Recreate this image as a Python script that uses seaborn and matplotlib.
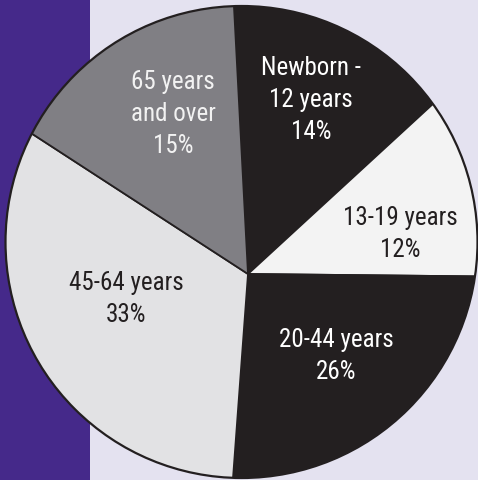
import matplotlib
matplotlib.use("Agg")
import matplotlib.pyplot as plt
import seaborn as sns
from matplotlib.patches import Circle, Rectangle

sns.set_theme(style="white")
plt.rcParams['font.family'] = ['Roboto Condensed', 'PT Sans Narrow', 'Liberation Sans', 'DejaVu Sans']

# Data
categories = ["Newborn -\n12 years", "13-19 years", "20-44 years", "45-64 years", "65 years\nand over"]
shares = [14, 12, 26, 33, 15]
slice_colors = ["#231f20", "#f3f3f3", "#231f20", "#e2e2e4", "#807f84"]
text_colors = ["white", "#231f20", "white", "#231f20", "#f2f2f2"]

W, H = 478, 481
fig = plt.figure(figsize=(W / 100, H / 100), dpi=100)
ax = fig.add_axes([0, 0, 1, 1])

def Y(y):
    return H - y

ax.add_patch(Rectangle((0, 0), W, H, facecolor="#e4e2f0", edgecolor="none", zorder=0))
ax.add_patch(Rectangle((0, 0), 90, H, facecolor="#45298a", edgecolor="none", zorder=0))

apex = (248, Y(275))
circ_c = (241.5, Y(243))
circ_r = 236

wedges, _ = ax.pie(shares, center=apex, radius=450, startangle=93, counterclock=False,
                   colors=slice_colors,
                   wedgeprops=dict(edgecolor="#231f20", linewidth=1.3))
clip = Circle(circ_c, circ_r, transform=ax.transData)
for w in wedges:
    w.set_zorder(2)
    w.set_clip_on(True)
    w.set_clip_path(clip)

ax.add_patch(Circle(circ_c, circ_r, facecolor="none", edgecolor="#231f20", linewidth=1.6, zorder=3))

label_pos = [(311, 100), (400, 234), (336, 356), (126, 299), (173, 114)]
for cat, val, (x, y), tc in zip(categories, shares, label_pos, text_colors):
    ax.text(x, Y(y), f"{cat}\n{val}%", ha="center", va="center", color=tc,
            fontsize=18, fontweight="normal", linespacing=1.4, zorder=4)

ax.set_xlim(0, W)
ax.set_ylim(0, H)
ax.set_aspect("equal")
ax.axis("off")
fig.savefig("out.png", dpi=100)
